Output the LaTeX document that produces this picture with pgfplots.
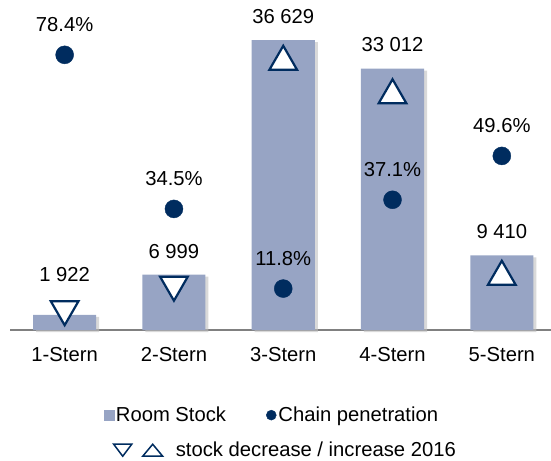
\documentclass[border=0pt]{standalone}
\usepackage{fontspec}
\setmainfont{Liberation Sans}
\usepackage{pgfplots}
\pgfplotsset{compat=1.18}
\definecolor{barcol}{RGB}{151,164,196}
\definecolor{navy}{RGB}{0,44,95}
\definecolor{basegray}{RGB}{128,128,128}

\begin{document}
\begin{tikzpicture}[font=\fontsize{20.3}{23}\selectfont]
\useasboundingbox (0,0) rectangle (551bp,461bp);
% left axis: room stock
\begin{axis}[
    at={(10bp,131bp)}, anchor=south west,
    scale only axis, width=541bp, height=325bp,
    xmin=-0.5, xmax=4.45, ymin=0, ymax=41050,
    axis y line=none, axis x line*=bottom,
    x axis line style={basegray, line width=1.5bp, -},
    xtick={0,1,2,3,4},
    xticklabels={1-Stern,2-Stern,3-Stern,4-Stern,5-Stern},
    major tick length=0pt,
    xticklabel style={yshift=-14bp},
    clip=false,
    legend style={draw=none, fill=none, at={(0.509,-0.370)}, anchor=center},
]
\addplot[ybar, bar width=0.577, fill=black!25, opacity=0.6, draw=none,
    xshift=3bp, yshift=-2bp, forget plot]
    coordinates {(0,1922)(1,6999)(2,36629)(3,33012)(4,9410)};
\addplot[ybar, bar width=0.577, fill=barcol, draw=none, forget plot]
    coordinates {(0,1922)(1,6999)(2,36629)(3,33012)(4,9410)};
% stock change markers
\addplot[only marks, mark=triangle*, mark size=16bp, forget plot,
    mark options={rotate=180, fill=white, draw=navy, line width=2.2bp}]
    coordinates {(0,2627)(1,5722)};
\addplot[only marks, mark=triangle*, mark size=16bp, forget plot,
    mark options={fill=white, draw=navy, line width=2.2bp}]
    coordinates {(2,33876)(3,29645)(4,6720)};
% value labels
\addplot[draw=none, mark=none, forget plot, nodes near coords,
    point meta=explicit symbolic,
    nodes near coords style={anchor=center, text=black}]
    coordinates {(0,6947)[1 922] (1,9852)[6 999] (2,39535)[36 629]
                 (3,35998)[33 012] (4,12378)[9 410]};
\addlegendimage{legend image code/.code={
    \draw[navy, line width=1.5bp] (0bp,6bp) -- (18bp,6bp) -- (9bp,-6bp) -- cycle;
    \draw[navy, line width=1.5bp] (29bp,-6bp) -- (49bp,-6bp) -- (39bp,6bp) -- cycle;
    \path (60bp,0bp);}}
\addlegendentry{stock decrease / increase 2016}
\end{axis}
% right axis: chain penetration
\begin{axis}[
    at={(10bp,131bp)}, anchor=south west,
    scale only axis, width=541bp, height=325bp,
    xmin=-0.5, xmax=4.45, ymin=0, ymax=92.6,
    hide axis, clip=false,
    legend columns=2,
    legend style={draw=none, fill=none, at={(0.484,-0.262)}, anchor=center,
        /tikz/every even column/.append style={column sep=38bp}},
]
\addlegendimage{legend image code/.code={
    \fill[barcol] (0bp,-5bp) rectangle (10bp,5bp);}}
\addlegendentry{Room Stock}
\addplot[only marks, mark=*, mark size=9bp, color=navy,
    nodes near coords, point meta=explicit symbolic,
    nodes near coords style={anchor=center, yshift=30bp, text=black},
    legend image code/.code={\fill[navy] (5bp,0bp) circle (5bp);}]
    coordinates {(0,78.4)[78.4\%] (1,34.5)[34.5\%] (2,11.8)[11.8\%]
                 (3,37.1)[37.1\%] (4,49.6)[49.6\%]};
\addlegendentry{Chain penetration}
\end{axis}
\end{tikzpicture}
\end{document}
